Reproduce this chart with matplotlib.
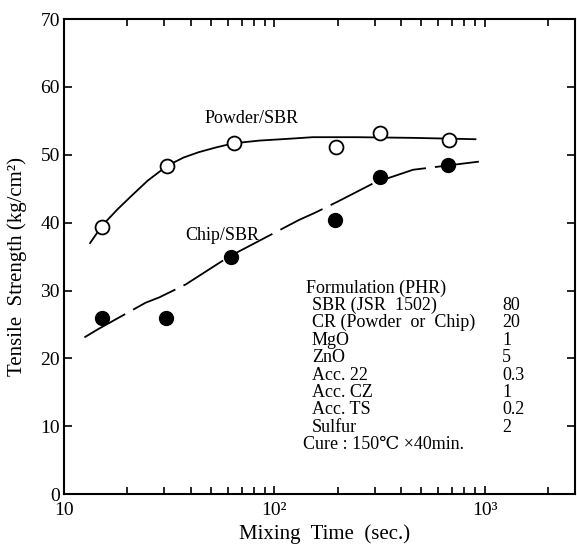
import matplotlib
matplotlib.use("Agg")
import matplotlib.pyplot as plt
from matplotlib.ticker import LogLocator, FixedLocator, NullFormatter

plt.rcParams['font.family'] = ['Liberation Serif', 'DejaVu Serif']

# measured points
time_powder = [15.2, 31, 64, 196, 318, 675]
ts_powder = [39.4, 48.4, 51.8, 51.2, 53.2, 52.2]
time_chip = [15.2, 30.5, 62, 195, 318, 670]
ts_chip = [26.0, 26.0, 34.9, 40.4, 46.8, 48.5]

# drawn trend curves
curve_powder_x = [13.3, 15.2, 18, 21.0, 25, 31, 37, 43.8, 53, 64, 85, 122, 152, 247, 457, 905]
curve_powder_y = [37.0, 39.6, 42.0, 44.0, 46.2, 48.4, 49.6, 50.4, 51.1, 51.7, 52.1, 52.4, 52.6, 52.6, 52.5, 52.3]
curve_chip_x = [12.5, 14.5, 24.4, 28.4, 37.9, 60.9, 131, 157, 200, 300, 457, 940]
curve_chip_y = [23.1, 24.3, 28.2, 29.0, 30.9, 35.0, 40.4, 41.5, 43.1, 45.9, 47.8, 49.0]

formulation_names = ["SBR (JSR  1502)", "CR (Powder  or  Chip)", "MgO", "ZnO",
                     "Acc. 22", "Acc. CZ", "Acc. TS", "Sulfur"]
formulation_vals = ["80", "20", "1", "5", "0.3", "1", "0.2", "2"]

fig = plt.figure(figsize=(5.77, 5.46), dpi=100)
ax = fig.add_axes([0.111, 0.095, 0.8855, 0.870])

ax.plot(curve_powder_x, curve_powder_y, color='black', lw=1.3, zorder=2)
ax.plot(curve_chip_x, curve_chip_y, color='black', lw=1.3, zorder=2,
        dashes=(26, 5))
ax.plot(time_powder, ts_powder, 'o', ms=10, mfc='white', mec='black', mew=1.3, zorder=3)
ax.plot(time_chip, ts_chip, 'o', ms=10, mfc='black', mec='black', mew=1.0, zorder=3)

ax.set_xscale('log')
ax.set_xlim(10, 10**3.43)
ax.set_ylim(0, 70)
ax.xaxis.set_major_locator(FixedLocator([10, 100, 1000]))
ax.xaxis.set_minor_locator(LogLocator(base=10, subs=range(2, 10), numticks=20))
ax.xaxis.set_minor_formatter(NullFormatter())
ax.set_xticklabels(['10', '10²', '10³'])
ax.set_yticks(range(0, 71, 10))

for s in ax.spines.values():
    s.set_linewidth(1.5)
ax.tick_params(which='both', direction='in', top=True, right=True, width=1.2)
ax.tick_params(which='major', length=6, labelsize=14)
ax.tick_params(axis='x', which='major', pad=6)
ax.tick_params(axis='y', which='major', pad=3)
ax.tick_params(which='minor', length=5)

ax.set_xlabel('Mixing  Time  (sec.)', fontsize=15)
ax.xaxis.set_label_coords(0.51, -0.064)
ax.set_ylabel('Tensile  Strength (kg/cm²)', fontsize=15)
ax.yaxis.set_label_coords(-0.072, 0.48)

ax.text(0.367, 0.79, 'Powder/SBR', transform=ax.transAxes, fontsize=13, ha='center', va='center')
ax.text(0.31, 0.545, 'Chip/SBR', transform=ax.transAxes, fontsize=13, ha='center', va='center')

# formulation block (figure coordinates)
y0 = 1 - 288/546
dy = 17.4/546
fig.text(306/577, y0, 'Formulation (PHR)', fontsize=13, va='center', ha='left')
for i, (n, v) in enumerate(zip(formulation_names, formulation_vals)):
    yy = y0 - (i + 1) * dy
    fig.text(312/577, yy, n, fontsize=13, va='center', ha='left')
    fig.text(502/577, yy, v, fontsize=13, va='center', ha='left')
fig.text(303/577, y0 - 9 * dy, 'Cure : 150℃ ×40min.', fontsize=13, va='center', ha='left')

fig.savefig('out.png', dpi=100)
